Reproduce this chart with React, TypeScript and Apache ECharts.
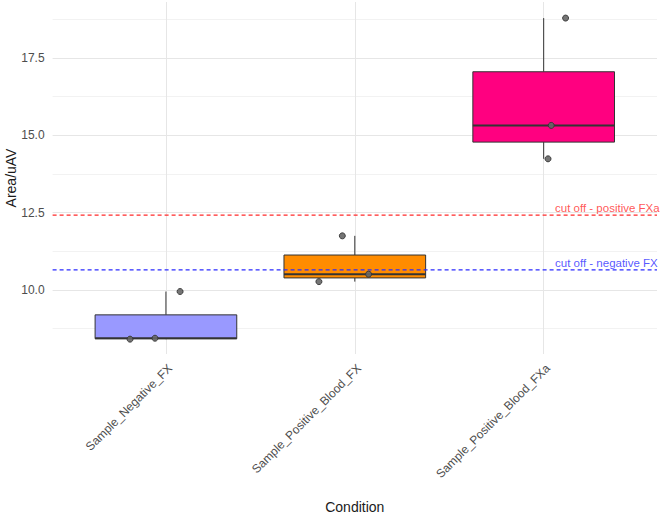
import React, { useEffect, useRef } from "react";
import * as echarts from "echarts";

const categories = ["Sample_Negative_FX", "Sample_Positive_Blood_FX", "Sample_Positive_Blood_FXa"];
const negativeFX = [8.41, 8.44, 9.95];
const positiveBloodFX = [10.27, 10.51, 11.75];
const positiveBloodFXa = [14.24, 15.32, 18.79];
const jitterNegativeFX = [-0.19, -0.058, 0.075];
const jitterPositiveBloodFX = [-0.19, 0.073, -0.066];
const jitterPositiveBloodFXa = [0.023, 0.04, 0.116];
const boxColors = ["#9999FF", "#FF8C00", "#FF0080"];
const yTicks = [10, 12.5, 15, 17.5];
const yMinorTicks = [8.75, 11.25, 13.75, 16.25, 18.75];
const cutoffPositive = 12.42;
const cutoffNegative = 10.65;
const cutoffLabels = ["cut off - positive FXa", "cut off - negative FX"];
const labelX = 3.06;
const xRange = [0.4, 3.6];

function quantile(sorted: number[], p: number) {
  const pos = (sorted.length - 1) * p;
  const lo = Math.floor(pos);
  const hi = Math.ceil(pos);
  return sorted[lo] + (sorted[hi] - sorted[lo]) * (pos - lo);
}

export default function App() {
  const ref = useRef<HTMLDivElement>(null);
  useEffect(() => {
    if (!ref.current) return;
    const chart = echarts.init(ref.current, undefined, { renderer: "svg" });
    const groups = [negativeFX, positiveBloodFX, positiveBloodFXa];
    const jitters = [jitterNegativeFX, jitterPositiveBloodFX, jitterPositiveBloodFXa];
    const boxData = groups.map((vals, i) => {
      const s = [...vals].sort((a, b) => a - b);
      const q1 = quantile(s, 0.25);
      const med = quantile(s, 0.5);
      const q3 = quantile(s, 0.75);
      const iqr = q3 - q1;
      const low = Math.min(...s.filter((v) => v >= q1 - 1.5 * iqr));
      const high = Math.max(...s.filter((v) => v <= q3 + 1.5 * iqr));
      return [i + 1, low, q1, med, q3, high, i];
    });
    const pts: number[][] = [];
    groups.forEach((vals, i) => vals.forEach((v, j) => pts.push([i + 1 + jitters[i][j], v])));
    const half = 0.375;
    const stroke = "#333333";

    const cutoffSeries = (value: number, color: string) => ({
      type: "line",
      data: [
        [xRange[0], value],
        [xRange[1], value],
      ],
      symbol: "none",
      silent: true,
      z: 5,
      color,
      lineStyle: { color, type: [4, 3], width: 1.2 },
      emphasis: { disabled: true },
    });

    chart.setOption({
      animation: false,
      backgroundColor: "#ffffff",
      grid: { left: 52.6, right: 4, top: 2, bottom: 160, containLabel: false, outerBoundsMode: "none" },
      xAxis: {
        type: "value",
        min: xRange[0],
        max: xRange[1],
        axisLine: { show: false },
        axisTick: { show: false, customValues: [1, 2, 3] },
        axisLabel: {
          customValues: [1, 2, 3],
          formatter: (v: number) => categories[Math.round(v) - 1] ?? "",
          rotate: 45,
          color: "#4d4d4d",
          fontSize: 12,
          fontFamily: "Liberation Sans",
          verticalAlign: "top",
          margin: 8,
        },
        splitLine: { show: true, lineStyle: { color: "#e6e6e6", width: 1 } },
        name: "Condition",
        nameLocation: "middle",
        nameGap: 146,
        nameTextStyle: { color: "#1a1a1a", fontSize: 14, fontFamily: "Liberation Sans" },
      },
      yAxis: [
        {
          type: "value",
          min: 7.93,
          max: 19.31,
          axisLine: { show: false },
          axisTick: { show: false, customValues: yTicks },
          axisLabel: {
            customValues: yTicks,
            formatter: (v: number) => v.toFixed(1),
            color: "#4d4d4d",
            fontSize: 12,
            fontFamily: "Liberation Sans",
            margin: 8,
          },
          splitLine: { show: true, lineStyle: { color: "#e6e6e6", width: 1 } },
          name: "Area/uAV",
          nameLocation: "middle",
          nameRotate: 90,
          nameGap: 35,
          nameMoveOverlap: false,
          nameTextStyle: { color: "#1a1a1a", fontSize: 14, fontFamily: "Liberation Sans" },
        },
        {
          type: "value",
          min: 7.93,
          max: 19.31,
          axisLine: { show: false },
          axisTick: { show: false, customValues: yMinorTicks },
          axisLabel: { show: false, customValues: yMinorTicks },
          splitLine: { show: true, lineStyle: { color: "#f2f2f2", width: 1 } },
        },
      ],
      series: [
        {
          type: "custom",
          yAxisIndex: 0,
          data: boxData,
          z: 2,
          renderItem: (params: any, api: any) => {
            const x = api.value(0);
            const low = api.value(1);
            const q1 = api.value(2);
            const med = api.value(3);
            const q3 = api.value(4);
            const high = api.value(5);
            const ci = api.value(6);
            const pTop = api.coord([x - half, q3]);
            const pBot = api.coord([x + half, q1]);
            const wTop = api.coord([x, high]);
            const wQ3 = api.coord([x, q3]);
            const wQ1 = api.coord([x, q1]);
            const wLow = api.coord([x, low]);
            const mL = api.coord([x - half, med]);
            const mR = api.coord([x + half, med]);
            return {
              type: "group",
              children: [
                { type: "line", shape: { x1: wTop[0], y1: wTop[1], x2: wQ3[0], y2: wQ3[1] }, style: { stroke, lineWidth: 1 } },
                { type: "line", shape: { x1: wLow[0], y1: wLow[1], x2: wQ1[0], y2: wQ1[1] }, style: { stroke, lineWidth: 1 } },
                {
                  type: "rect",
                  shape: { x: pTop[0], y: pTop[1], width: pBot[0] - pTop[0], height: pBot[1] - pTop[1] },
                  style: { fill: boxColors[ci], stroke, lineWidth: 1 },
                },
                { type: "line", shape: { x1: mL[0], y1: mL[1], x2: mR[0], y2: mR[1] }, style: { stroke, lineWidth: 2 } },
              ],
            };
          },
        },
        cutoffSeries(cutoffPositive, "#FF2A2A"),
        cutoffSeries(cutoffNegative, "#2B2BFF"),
        {
          type: "scatter",
          data: pts,
          symbolSize: 6,
          z: 6,
          itemStyle: { color: "#666666", borderColor: "#333333", borderWidth: 1, opacity: 0.9 },
        },
        {
          type: "scatter",
          symbolSize: 0,
          z: 7,
          data: [
            { value: [labelX, cutoffPositive], label: { formatter: cutoffLabels[0], color: "#FF2A2A" } },
            { value: [labelX, cutoffNegative], label: { formatter: cutoffLabels[1], color: "#2B2BFF" } },
          ],
          label: {
            show: true,
            position: [0, -7],
            align: "left",
            verticalAlign: "middle",
            fontSize: 11.5,
            fontFamily: "Liberation Sans",
          },
        },
      ],
    });
    return () => chart.dispose();
  }, []);
  return <div ref={ref} style={{ position: "fixed", left: 0, top: 0, width: 661, height: 514 }} />;
}
